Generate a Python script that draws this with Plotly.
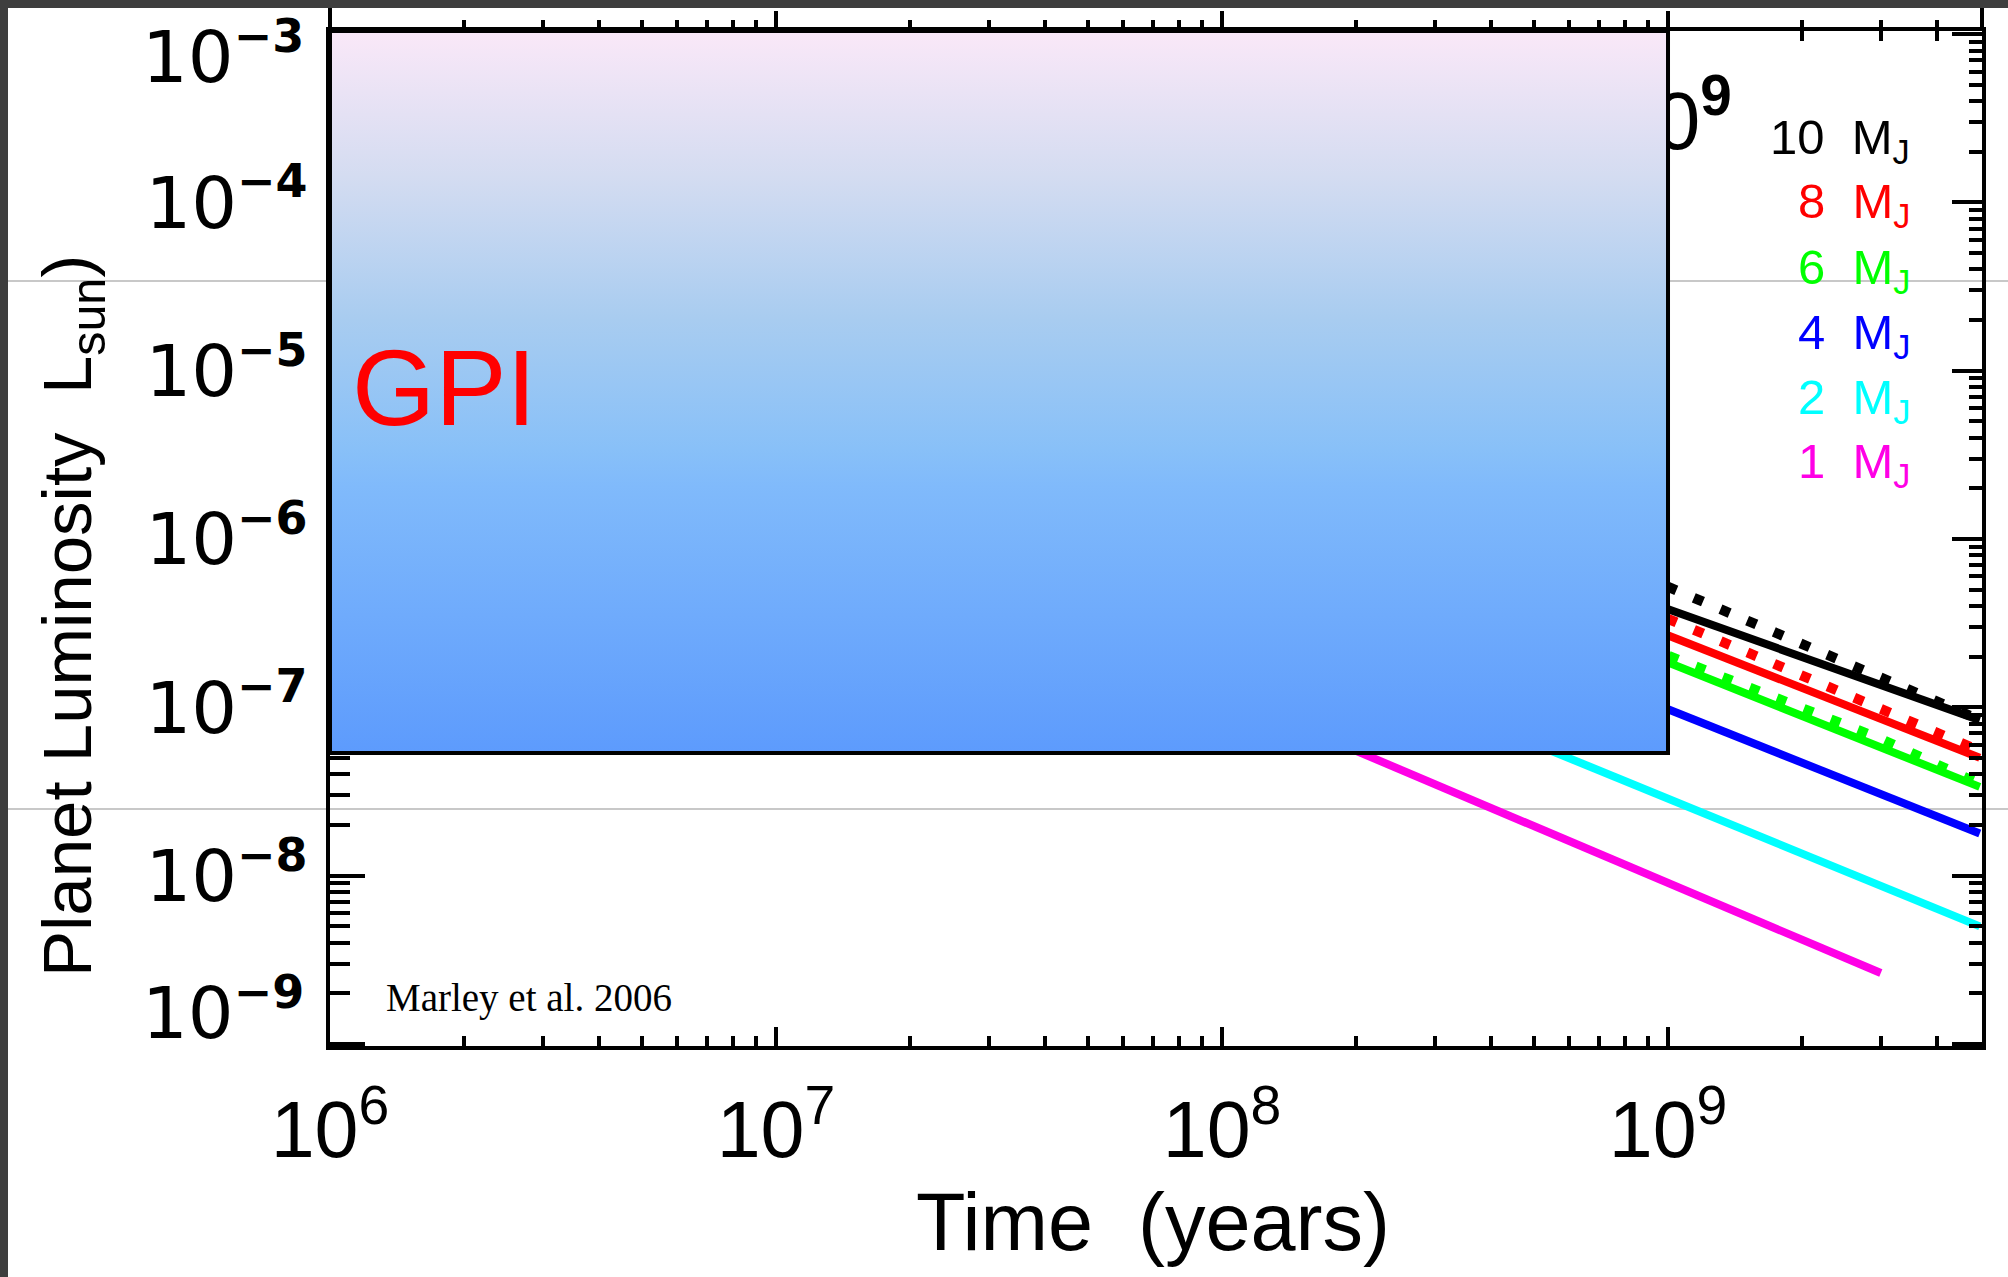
import plotly.graph_objects as go

# ---------------- data ----------------
# hot-start cooling tracks (solid), age in years -> luminosity in L_sun
t_hot = [1e8, 2e8, 5e8, 1e9, 2e9, 3e9, 5e9]
L_10MJ = [3.35e-6, 1.74e-6, 7.35e-7, 3.83e-7, 1.99e-7, 1.36e-7, 8.4e-8]
L_8MJ = [2.94e-6, 1.43e-6, 5.51e-7, 2.68e-7, 1.30e-7, 8.55e-8, 5.02e-8]
L_6MJ = [2.11e-6, 1.01e-6, 3.85e-7, 1.85e-7, 8.87e-8, 5.78e-8, 3.37e-8]
L_4MJ = [1.11e-6, 5.36e-7, 2.03e-7, 9.75e-8, 4.69e-8, 3.05e-8, 1.78e-8]
L_2MJ = [3.49e-7, 1.64e-7, 6.08e-8, 2.87e-8, 1.35e-8, 8.71e-9, 5.00e-9]
t_1MJ = [1e8, 2e8, 5e8, 1e9, 2e9, 3e9]
L_1MJ = [1.20e-7, 5.51e-8, 1.97e-8, 9.06e-9, 4.17e-9, 2.64e-9]

# dotted tracks
t_cold = [5e8, 1e9, 2e9, 3e9, 5e9]
C_10MJ = [1.14e-6, 5.19e-7, 2.38e-7, 1.50e-7, 8.44e-8]
C_8MJ = [7.31e-7, 3.36e-7, 1.54e-7, 9.79e-8, 5.52e-8]
C_6MJ = [4.17e-7, 2.02e-7, 9.89e-8, 6.49e-8, 3.51e-8]

masses = ["10", "8", "6", "4", "2", "1"]
mass_colors = ["#000000", "#ff0000", "#00ff00", "#0000ff", "#00ffff", "#ff00e6"]

# GPI sensitivity region (age range, luminosity range)
gpi_age = [1e6, 1e9]
gpi_lum = [5.36e-8, 1.045e-3]

# partially hidden label behind the GPI box
hidden_label_t = [1.39e9]
hidden_label_L = [2.75e-4]
hidden_label_text = ["10<sup><b>9</b></sup>"]

x_tick_vals = [1e6, 1e7, 1e8, 1e9]
x_tick_text = ["10<sup>6</sup>", "10<sup>7</sup>", "10<sup>8</sup>", "10<sup>9</sup>"]
y_exponents = [9, 8, 7, 6, 5, 4, 3]
y_tick_vals = [10.0 ** -k for k in y_exponents]
y_label_html = ["10<sup><span style='font-size:46px'><b>\u2212%d</b></span></sup>" % k
                for k in y_exponents]
# the two edge labels sit nudged inward (as on the original slide)
edge_label_exp = {-3: -20, -9: 34}
y_tick_text = ["" if -k in edge_label_exp else t for k, t in zip(y_exponents, y_label_html)]

x_minor = [k * 10 ** n for n in range(6, 10) for k in range(2, 10) if k * 10 ** n < 5e9]
y_minor = [k * 10.0 ** n for n in range(-9, -3) for k in range(2, 10)]

# ---------------- layout geometry ----------------
W, H = 2008, 1277
PL, PR, PT, PB = 330, 1982, 31, 1046
PW, PH = PR - PL, PB - PT


def px(x):
    return (x - PL) / PW


def py(y):
    return (PB - y) / PH


SANS = "Liberation Sans, Arial, Helvetica, sans-serif"
SERIF = "Liberation Serif, Times New Roman, serif"
DEJAVU = "DejaVu Sans, sans-serif"

fig = go.Figure()

hot_series = [L_10MJ, L_8MJ, L_6MJ, L_4MJ, L_2MJ]
cold_series = {0: C_10MJ, 1: C_8MJ, 2: C_6MJ}
for i, L in enumerate(hot_series):
    fig.add_trace(go.Scatter(x=t_hot, y=L, mode="lines",
                             line=dict(color=mass_colors[i], width=8),
                             name=masses[i] + " MJ", hoverinfo="skip"))
    if i in cold_series:
        fig.add_trace(go.Scatter(x=t_cold, y=cold_series[i], mode="lines",
                                 line=dict(color=mass_colors[i], width=10, dash="10px,19px"),
                                 name=masses[i] + " MJ (dotted)", hoverinfo="skip"))
fig.add_trace(go.Scatter(x=t_1MJ, y=L_1MJ, mode="lines",
                         line=dict(color=mass_colors[5], width=8),
                         name="1 MJ", hoverinfo="skip"))

# text partially hidden by the box
fig.add_trace(go.Scatter(x=hidden_label_t, y=hidden_label_L, mode="text",
                         text=hidden_label_text, textposition="middle left",
                         textfont=dict(family=SANS, size=81, color="black"),
                         hoverinfo="skip", cliponaxis=False))

# GPI box with vertical gradient
fig.add_trace(go.Scatter(
    x=[gpi_age[0], gpi_age[1], gpi_age[1], gpi_age[0], gpi_age[0]],
    y=[gpi_lum[1], gpi_lum[1], gpi_lum[0], gpi_lum[0], gpi_lum[1]],
    mode="lines", fill="toself",
    line=dict(color="black", width=4),
    fillgradient=dict(type="vertical",
                      colorscale=[[0.0, "#5d9bfd"], [0.37, "#80bafb"], [0.42, "#88c0f8"],
                                  [0.60, "#a8ccf0"], [0.80, "#d4dcf1"], [1.0, "#fae8f8"]]),
    hoverinfo="skip", name="GPI"))

# invisible traces to activate the mirror axes
fig.add_trace(go.Scatter(x=[], y=[], xaxis="x2", yaxis="y", showlegend=False))
fig.add_trace(go.Scatter(x=[], y=[], xaxis="x", yaxis="y2", showlegend=False))

xr = [6, 9.704]
yr = [-9.012, -2.981]

fig.update_layout(
    width=W, height=H,
    margin=dict(l=PL, r=W - PR, t=PT, b=H - PB, pad=0, autoexpand=False),
    paper_bgcolor="white", plot_bgcolor="rgba(0,0,0,0)",
    showlegend=False,
    xaxis=dict(type="log", range=xr, showline=True, linecolor="black", linewidth=4,
               mirror="ticks", ticks="inside", ticklen=19, tickwidth=4, tickcolor="black",
               tickmode="array", tickvals=x_tick_vals, ticktext=x_tick_text,
               tickfont=dict(family=SANS, size=79, color="black"),
               ticklabelstandoff=12, layer="below traces",
               showgrid=False, zeroline=False,
               minor=dict(ticks="inside", ticklen=10, tickwidth=4, tickcolor="black",
                          tickmode="array", tickvals=x_minor, showgrid=False)),
    xaxis2=dict(type="log", range=xr, overlaying="x", side="top", anchor="y",
                showline=False, ticks="outside", ticklen=19, tickwidth=4, tickcolor="black",
                tickmode="array", tickvals=x_tick_vals, showticklabels=False,
                showgrid=False, zeroline=False,
                minor=dict(ticks="outside", ticklen=10, tickwidth=4, tickcolor="black",
                           tickmode="array", tickvals=x_minor, showgrid=False)),
    yaxis=dict(type="log", range=yr, showline=True, linecolor="black", linewidth=4,
               ticks="inside", ticklen=35, tickwidth=4, tickcolor="black",
               tickmode="array", tickvals=y_tick_vals, ticktext=y_tick_text,
               tickfont=dict(family=DEJAVU, size=72, color="black"),
               ticklabelstandoff=4, layer="below traces",
               showgrid=False, zeroline=False,
               minor=dict(ticks="inside", ticklen=20, tickwidth=4, tickcolor="black",
                          tickmode="array", tickvals=y_minor, showgrid=False)),
    yaxis2=dict(type="log", range=yr, overlaying="y", side="right", anchor="x",
                showline=True, linecolor="black", linewidth=4,
                ticks="inside", ticklen=30, tickwidth=4, tickcolor="black",
                tickmode="array", tickvals=y_tick_vals, showticklabels=False,
                showgrid=False, zeroline=False,
                minor=dict(ticks="inside", ticklen=13, tickwidth=4, tickcolor="black",
                           tickmode="array", tickvals=y_minor, showgrid=False)),
)

shapes = []
# faint slide guide lines
for gy in [281, 809]:
    shapes.append(dict(type="line", xref="paper", yref="paper", layer="below",
                       x0=px(8), x1=px(W), y0=py(gy), y1=py(gy),
                       line=dict(color="#c8c8c8", width=2)))
# slide background strips
shapes.append(dict(type="rect", xref="paper", yref="paper", layer="below",
                   x0=px(0), x1=px(8), y0=py(H), y1=py(0),
                   fillcolor="#3e3e3e", line=dict(width=0)))
shapes.append(dict(type="rect", xref="paper", yref="paper", layer="below",
                   x0=px(0), x1=px(W), y0=py(8), y1=py(0),
                   fillcolor="#3e3e3e", line=dict(width=0)))
# frame verticals continuing above the top axis line
for fx in [PL, PR]:
    shapes.append(dict(type="line", xref="paper", yref="paper", layer="above",
                       x0=px(fx), x1=px(fx), y0=1.0, y1=py(8),
                       line=dict(color="black", width=4)))
fig.update_layout(shapes=shapes)

ann = []
# edge tick labels of the luminosity axis, anchored at their ticks
for k, t in zip(y_exponents, y_label_html):
    if -k in edge_label_exp:
        ann.append(dict(text=t, xref="paper", x=px(306), yref="y", y=-k,
                        yshift=edge_label_exp[-k], xanchor="right", yanchor="middle",
                        showarrow=False, font=dict(family=DEJAVU, size=72, color="black")))
for i, (m, c) in enumerate(zip(masses, mass_colors)):
    base = 152 + 65 * i
    ann.append(dict(text=m + "  M<sub>J</sub>", x=px(1912), y=py(base - 12),
                    xref="paper", yref="paper", xanchor="right", yanchor="middle",
                    showarrow=False, font=dict(family=SANS, size=49, color=c)))
ann.append(dict(text="GPI", x=px(350), y=py(388.5), xref="paper", yref="paper",
                xanchor="left", yanchor="middle", showarrow=False,
                font=dict(family=SANS, size=107, color="#ff0000")))
ann.append(dict(text="Marley et al. 2006", x=px(384), y=py(997.5), xref="paper", yref="paper",
                xanchor="left", yanchor="middle", showarrow=False,
                font=dict(family=SERIF, size=39, color="black")))
ann.append(dict(text="Planet Luminosity  L<sub>sun</sub>)", textangle=-90,
                x=px(72), y=py(616), xref="paper", yref="paper",
                xanchor="center", yanchor="middle", showarrow=False,
                font=dict(family=SANS, size=69, color="black")))
ann.append(dict(text="Time  (years)", x=px(1153), y=py(1222), xref="paper", yref="paper",
                xanchor="center", yanchor="middle", showarrow=False,
                font=dict(family=SANS, size=81, color="black")))
fig.update_layout(annotations=ann)

fig.write_html("out.html")
